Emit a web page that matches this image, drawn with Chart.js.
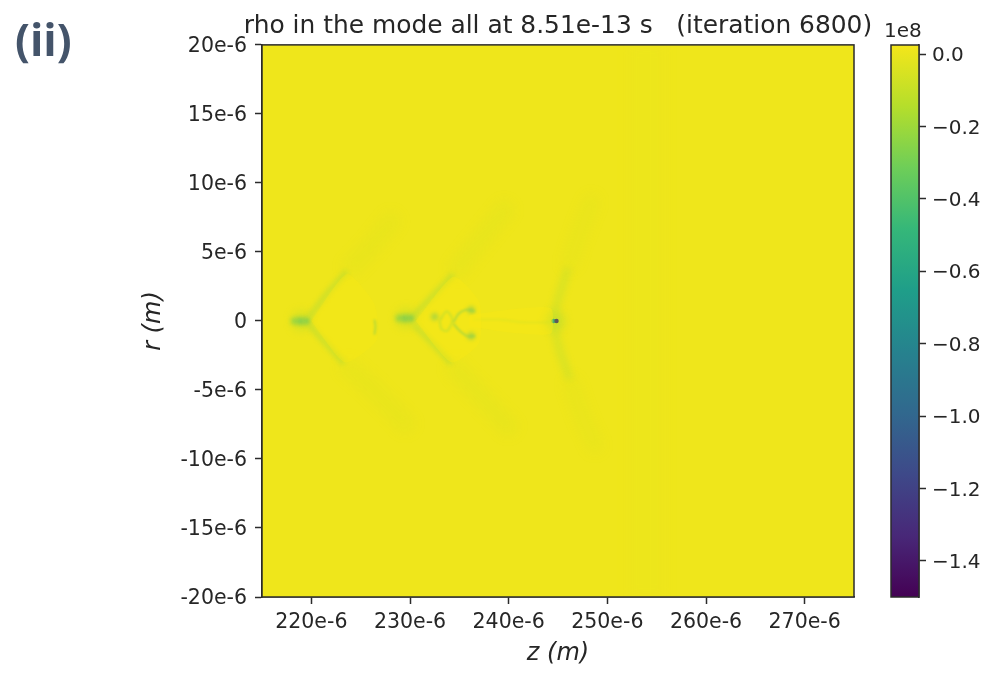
<!DOCTYPE html>
<html>
<head>
<meta charset="utf-8">
<title>rho in the mode all</title>
<script src="https://cdn.jsdelivr.net/npm/chart.js@4"></script>
<style>
  html, body { margin: 0; background: #fff; }
  #page { position: relative; width: 1005px; height: 678px; overflow: hidden; }
  canvas { position: absolute; top: 0; }
  #fieldChart { left: 0; }
  #barChart { left: 870px; }
  .tag { position: absolute; white-space: pre; }
  #panel { left: 15px; top: 9px; font: bold 44px "Open Sans", sans-serif; color: #44546a; }
  #offset { left: 884px; top: 18px; font: 20px "DejaVu Sans", sans-serif; color: #262626; }
</style>
</head>
<body>
<div id="page">
  <canvas id="fieldChart" width="1005" height="678"></canvas>
  <canvas id="barChart" width="135" height="678"></canvas>
  <div class="tag" id="panel">(ii)</div>
  <div class="tag" id="offset">1e8</div>
</div>
<script>
// axes, z and r in units of 1e-6 m
const zTicks = [220, 230, 240, 250, 260, 270];
const zTickLabels = ['220e-6', '230e-6', '240e-6', '250e-6', '260e-6', '270e-6'];
const rTicks = [20, 15, 10, 5, 0, -5, -10, -15, -20];
const rTickLabels = ['20e-6', '15e-6', '10e-6', '5e-6', '0', '-5e-6', '-10e-6', '-15e-6', '-20e-6'];
const barTicks = [0, -0.2, -0.4, -0.6, -0.8, -1.0, -1.2, -1.4];
const barTickLabels = ['0.0', '−0.2', '−0.4', '−0.6', '−0.8', '−1.0', '−1.2', '−1.4'];
const viridisStops = ['#440154', '#482878', '#3e4989', '#31688e', '#26828e', '#1f9e89', '#35b779', '#6ece58', '#b5de2b', '#f4e61a'];

// wakes, values (rho in 1e8)
const wake1UpperZ = [219.8, 221.6, 223.6];
const wake1UpperR = [0.3, 2, 3.6];
const wake1LowerZ = [219.8, 221.4, 223.3];
const wake1LowerR = [-0.3, -1.6, -3.1];
const wake1OuterZ = [223.6, 225.8, 228.5];
const wake1OuterR = [3.6, 5.2, 7.6];
const wake1OuterLowZ = [223.3, 226.2, 230];
const wake1OuterLowR = [-3.1, -4.9, -7.8];
const wake2UpperZ = [230.4, 232.4, 234.4];
const wake2UpperR = [0.4, 1.9, 3.4];
const wake2LowerZ = [230.4, 232.2, 234.2];
const wake2LowerR = [-0.3, -1.6, -3.1];
const wake2OuterZ = [234.4, 236.6, 240];
const wake2OuterR = [3.4, 5.4, 8.4];
const wake2OuterLowZ = [234.2, 236.6, 240.4];
const wake2OuterLowR = [-3.1, -5, -8];
const wake3UpperZ = [244.6, 245.2, 246];
const wake3UpperR = [0.4, 2, 3.8];
const wake3LowerZ = [244.6, 245.2, 246.2];
const wake3LowerR = [-0.4, -2.2, -4.2];
const wake3OuterZ = [246, 247.2, 248.6];
const wake3OuterR = [3.8, 6.4, 9];
const wake3OuterLowZ = [246.2, 247.4, 249];
const wake3OuterLowR = [-4.2, -6.8, -9.4];
const trailZ = [236.4, 239, 241.5, 244.2];
const trailR = [0.1, 0.1, -0.1, -0.1];
const streakZ = [226.4, 226.5, 226.4];
const streakR = [0.1, -0.4, -1];
const arcTopZ = [234.4, 234.9, 235.6, 236.6];
const arcTopR = [-0.1, 0.5, 0.8, 0.7];
const arcLowZ = [234.4, 235, 235.8, 236.6];
const arcLowR = [-0.2, -0.7, -1.1, -1.1];
const ringZ = [233, 233.7, 234.3, 233.8, 233.2, 233];
const ringR = [0, 0.7, 0.1, -0.7, -0.6, 0];
const bandZ = [254, 254];
const bandR = [20, -20];

// brighter inside the wakes
const inner1Z = [220, 223.6, 226.4, 226.6, 223.4, 220];
const inner1R = [0, 3.4, 1.2, -1.4, -3, 0];
const inner2Z = [230.6, 234.4, 237, 237, 234.2, 230.6];
const inner2R = [0, 3.2, 1.4, -1.6, -3, 0];
const inner3Z = [236, 241, 244.3, 244.3, 241, 236];
const inner3R = [0.4, 0.9, 0.9, -0.9, -0.9, -0.4];

// blobs on the axis
const blobZ = [218.3, 218.9, 219.5, 228.9, 229.5, 230.1, 232.5, 236.2, 236.2];
const blobR = [0, 0, 0, 0.2, 0.2, 0.2, 0.3, 0.8, -1.1];
const blobRho = [-0.3, -0.45, -0.4, -0.3, -0.45, -0.4, -0.45, -0.5, -0.5];
const haloZ = [219, 229.6, 244.7];
const haloR = [0, 0.2, 0];
const haloRho = [-0.2, -0.2, -0.25];
const headZ = [244.55, 244.85];
const headR = [0, 0];
const headRho = [-0.65, -1.4];

function hexToRgb(hex) {
  return [1, 3, 5].map(i => parseInt(hex.slice(i, i + 2), 16));
}

function rhoColor(rho, alpha) {
  const t = Math.min(1, Math.max(0, (rho + 1.5) / 1.525)) * (viridisStops.length - 1);
  const i = Math.min(viridisStops.length - 2, Math.floor(t));
  const a = hexToRgb(viridisStops[i]);
  const b = hexToRgb(viridisStops[i + 1]);
  const c = a.map((v, k) => Math.round(v + (b[k] - v) * (t - i)));
  return `rgba(${c[0]}, ${c[1]}, ${c[2]}, ${alpha})`;
}

function toPoints(zs, rs) {
  return zs.map((z, i) => ({ x: z, y: rs[i] }));
}

function streak(zs, rs, rho, width, alpha, blur) {
  return {
    type: 'line',
    data: toPoints(zs, rs),
    borderColor: rhoColor(rho, alpha),
    borderWidth: width,
    pointRadius: 0,
    tension: 0.3,
    fill: false,
    blur: blur
  };
}

function patch(zs, rs, alpha) {
  return {
    type: 'line',
    data: toPoints(zs, rs),
    borderWidth: 0,
    borderColor: 'rgba(0, 0, 0, 0)',
    backgroundColor: `rgba(250, 232, 20, ${alpha})`,
    pointRadius: 0,
    tension: 0.2,
    fill: 'shape',
    blur: 5
  };
}

function blobs(zs, rs, rhos, radius, alpha, blur) {
  return {
    type: 'scatter',
    data: toPoints(zs, rs),
    backgroundColor: rhos.map(rho => rhoColor(rho, alpha)),
    borderWidth: 0,
    pointRadius: radius,
    blur: blur
  };
}

const softDraw = {
  id: 'softDraw',
  beforeDatasetsDraw(chart) {
    const { ctx, chartArea: a } = chart;
    ctx.save();
    ctx.fillStyle = '#efe61b';
    ctx.fillRect(a.left, a.top, a.width, a.height);
    ctx.restore();
  },
  beforeDatasetDraw(chart, args) {
    const blur = chart.data.datasets[args.index].blur;
    chart.ctx.save();
    chart.ctx.filter = blur ? `blur(${blur}px)` : 'none';
  },
  afterDatasetDraw(chart) {
    chart.ctx.restore();
  }
};

const frame = {
  id: 'frame',
  afterDraw(chart) {
    const { ctx, chartArea: a } = chart;
    ctx.save();
    ctx.strokeStyle = '#2b2b2b';
    ctx.lineWidth = 1.5;
    ctx.strokeRect(a.left, a.top, a.width, a.height);
    ctx.restore();
  }
};

// the title is wider than the plot, give its box some room so it is not squeezed
const wideTitle = {
  id: 'wideTitle',
  afterLayout(chart) {
    chart.titleBlock.left -= 40;
    chart.titleBlock.right += 40;
  }
};

function setTicks(values) {
  return scale => { scale.ticks = values.map(value => ({ value })); };
}

const tickFont = { family: 'DejaVu Sans', size: 20.5 };
// small line height plus an empty first line drops the side labels about 2px
const sideTickFont = { family: 'DejaVu Sans', size: 20.5, lineHeight: 0.2 };
const inkColor = '#262626';

new Chart(document.getElementById('fieldChart'), {
  type: 'scatter',
  data: {
    datasets: [
      streak(bandZ, bandR, -0.05, 34, 0.05, 8),
      patch(inner1Z, inner1R, 0.35),
      patch(inner2Z, inner2R, 0.4),
      patch(inner3Z, inner3R, 0.4),
      streak(wake1OuterZ, wake1OuterR, -0.15, 14, 0.12, 7),
      streak(wake1OuterLowZ, wake1OuterLowR, -0.15, 14, 0.12, 7),
      streak(wake2OuterZ, wake2OuterR, -0.15, 14, 0.13, 7),
      streak(wake2OuterLowZ, wake2OuterLowR, -0.15, 14, 0.13, 7),
      streak(wake3OuterZ, wake3OuterR, -0.15, 12, 0.1, 7),
      streak(wake3OuterLowZ, wake3OuterLowR, -0.15, 12, 0.1, 7),
      streak(wake1UpperZ, wake1UpperR, -0.25, 5, 0.35, 2.5),
      streak(wake1LowerZ, wake1LowerR, -0.25, 5, 0.35, 2.5),
      streak(wake2UpperZ, wake2UpperR, -0.25, 5, 0.35, 2.5),
      streak(wake2LowerZ, wake2LowerR, -0.25, 5, 0.35, 2.5),
      streak(wake3UpperZ, wake3UpperR, -0.2, 7, 0.3, 3.5),
      streak(wake3LowerZ, wake3LowerR, -0.2, 7, 0.3, 3.5),
      streak(trailZ, trailR, -0.2, 2, 0.3, 1.2),
      streak(streakZ, streakR, -0.4, 2, 0.55, 0.8),
      streak(ringZ, ringR, -0.25, 2.2, 0.55, 1.1),
      streak(arcTopZ, arcTopR, -0.4, 2, 0.65, 1),
      streak(arcLowZ, arcLowR, -0.4, 2, 0.65, 1),
      blobs(haloZ, haloR, haloRho, 9, 0.4, 5),
      blobs(blobZ, blobR, blobRho, 3.5, 0.7, 2),
      blobs(headZ, headR, headRho, 2.2, 1, 0.6)
    ]
  },
  options: {
    responsive: false,
    animation: false,
    layout: { padding: { left: 0, right: 151, top: 0, bottom: 0 } },
    plugins: {
      legend: { display: false },
      tooltip: { enabled: false },
      title: {
        display: true,
        fullSize: false,
        text: 'rho in the mode all at 8.51e-13 s   (iteration 6800)',
        color: inkColor,
        font: { family: 'DejaVu Sans', size: 24.9, weight: 'normal' },
        padding: { top: 12, bottom: 3 }
      }
    },
    scales: {
      x: {
        type: 'linear',
        min: 215,
        max: 275,
        afterBuildTicks: setTicks(zTicks),
        afterFit: scale => { scale.height = 81; },
        grid: { drawOnChartArea: false, tickLength: 7, tickColor: '#2b2b2b', tickWidth: 1.5 },
        border: { color: '#2b2b2b', width: 1.5 },
        ticks: {
          autoSkip: false,
          maxRotation: 0,
          padding: 6,
          color: inkColor,
          font: tickFont,
          callback: (value, i) => zTickLabels[i]
        },
        title: {
          display: true,
          text: 'z (m)',
          color: inkColor,
          font: { family: 'DejaVu Sans', size: 24, style: 'italic' },
          padding: { top: 0, bottom: 10 }
        }
      },
      y: {
        type: 'linear',
        min: -20,
        max: 20,
        afterBuildTicks: setTicks(rTicks),
        afterFit: scale => { scale.width = 262; },
        grid: { drawOnChartArea: false, tickLength: 7, tickColor: '#2b2b2b', tickWidth: 1.5 },
        border: { color: '#2b2b2b', width: 1.5 },
        ticks: {
          autoSkip: false,
          padding: 8,
          color: inkColor,
          font: sideTickFont,
          callback: (value, i) => ['', rTickLabels[i]]
        },
        title: {
          display: true,
          text: 'r (m)',
          color: inkColor,
          font: { family: 'DejaVu Sans', size: 24, style: 'italic' },
          padding: { top: 139, bottom: 0 }
        }
      }
    }
  },
  plugins: [softDraw, frame, wideTitle]
});

new Chart(document.getElementById('barChart'), {
  type: 'bar',
  data: {
    labels: ['rho'],
    datasets: [{
      data: [[-1.5, 0.025]],
      barPercentage: 1,
      categoryPercentage: 1,
      borderWidth: 0,
      backgroundColor: context => {
        const area = context.chart.chartArea;
        if (!area) return viridisStops[0];
        const gradient = context.chart.ctx.createLinearGradient(0, area.bottom, 0, area.top);
        viridisStops.forEach((color, i) => gradient.addColorStop(i / (viridisStops.length - 1), color));
        return gradient;
      }
    }]
  },
  options: {
    responsive: false,
    animation: false,
    layout: { padding: { left: 21, top: 45, bottom: 81, right: 0 } },
    plugins: { legend: { display: false }, tooltip: { enabled: false } },
    scales: {
      x: { display: false },
      y: {
        position: 'right',
        min: -1.5,
        max: 0.025,
        afterBuildTicks: setTicks(barTicks),
        afterFit: scale => { scale.width = 86; },
        grid: { drawOnChartArea: false, tickLength: 7, tickColor: '#2b2b2b', tickWidth: 1.5 },
        border: { color: '#2b2b2b', width: 1.5 },
        ticks: {
          autoSkip: false,
          padding: 6,
          color: inkColor,
          font: { family: 'DejaVu Sans', size: 20, lineHeight: 0.2 },
          callback: (value, i) => ['', barTickLabels[i]]
        }
      }
    }
  },
  plugins: [frame]
});
</script>
</body>
</html>
